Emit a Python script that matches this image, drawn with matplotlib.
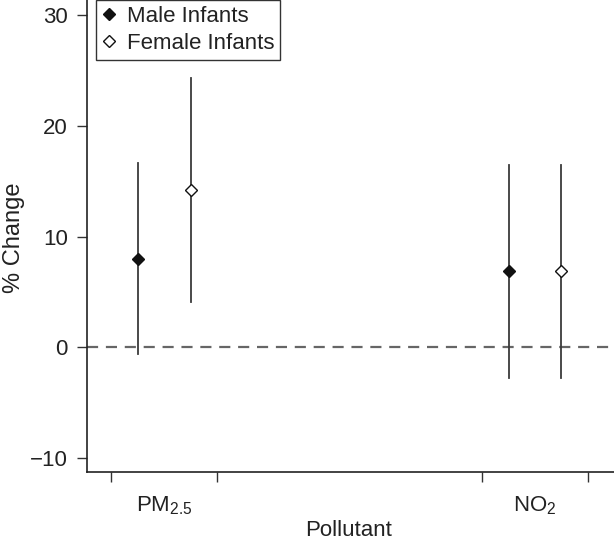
import matplotlib.pyplot as plt
import numpy as np

plt.rcParams['font.family'] = ['Liberation Sans', 'DejaVu Sans']
plt.rcParams['mathtext.default'] = 'regular'

# データ
pollutants = ['PM$_{2.5}$', 'NO$_2$']
male_est = [8.0, 6.85]
male_low = [-0.6, -2.8]
male_high = [16.65, 16.5]
female_est = [14.2, 6.85]
female_low = [4.1, -2.8]
female_high = [24.3, 16.5]

fs = 16
W, H = 614, 541

fig = plt.figure(figsize=(W / 100, H / 100), dpi=100)
ax = fig.add_axes([0.141, 0.1275, 0.859, 0.8725])

centers = np.arange(1, len(pollutants) + 1)
off = 0.0714
line_col = '#3a3a3a'

for i, c in enumerate(centers):
    ax.plot([c - off, c - off], [male_low[i], male_high[i]], color=line_col, lw=1.3, zorder=2)
    ax.plot([c + off, c + off], [female_low[i], female_high[i]], color=line_col, lw=1.3, zorder=2)

ax.plot(centers - off, male_est, 'D', ms=5.8, mfc='#111111', mec='#111111', mew=1.0,
        ls='none', label='Male Infants', zorder=3)
ax.plot(centers + off, female_est, 'D', ms=5.8, mfc='white', mec='#111111', mew=1.0,
        ls='none', label='Female Infants', zorder=3)

ax.axhline(0, color='#666666', lw=1.6, dashes=(5, 3.5), zorder=1)

ax.set_xlim(0.791, 2.213)
ax.set_ylim(-11.3, 31.4)

ax.set_yticks([-10, 0, 10, 20, 30])
ax.set_yticklabels(['\u221210', '0', '10', '20', '30'])
ax.set_xticks([c + d for c in centers for d in (-0.143, 0.143)])
ax.set_xticklabels([])
for c, lab in zip(centers, pollutants):
    ax.text(c, -13.3, lab, ha='center', va='top', fontsize=fs, color='#222222')

ax.tick_params(axis='both', direction='out', length=7.5, width=1.0, colors='#333333',
               labelsize=fs, labelcolor='#222222', pad=6)

for s in ['top', 'right']:
    ax.spines[s].set_visible(False)
for s in ['left', 'bottom']:
    ax.spines[s].set_color('#222222')
    ax.spines[s].set_linewidth(1.2)

# 軸ラベル
fig.text(14 / W, 1 - 238 / H, '% Change', rotation=90, ha='center', va='center',
         fontsize=17, color='#222222')
fig.text(349 / W, 1 - 535.5 / H, 'Pollutant', ha='center', va='baseline',
         fontsize=fs, color='#222222')

leg = ax.legend(loc='upper left', bbox_to_anchor=(0.0178, 1.0), borderaxespad=0,
                fontsize=fs, handlelength=0.7, handletextpad=0.45, borderpad=0.25,
                labelspacing=0.3, fancybox=False, framealpha=1)
leg.get_frame().set_edgecolor('#333333')
leg.get_frame().set_linewidth(1.0)
for t in leg.get_texts():
    t.set_color('#222222')

fig.savefig('out.png', dpi=100)
